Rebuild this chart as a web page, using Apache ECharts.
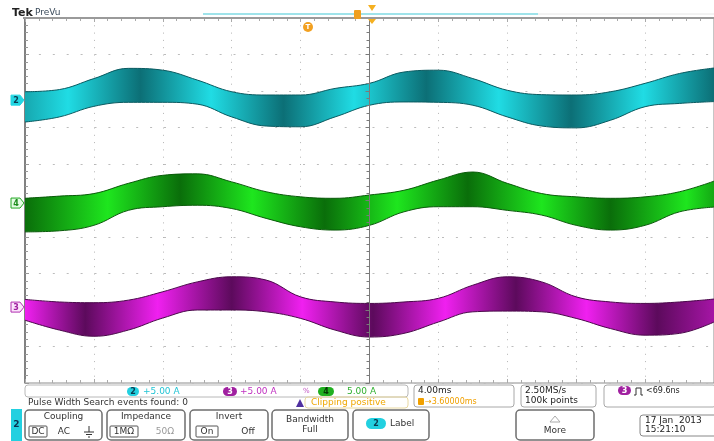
<!DOCTYPE html>
<html>
<head>
<meta charset="utf-8">
<script src="https://cdn.jsdelivr.net/npm/echarts@6/dist/echarts.min.js"></script>
<style>
  html, body { margin: 0; padding: 0; background: #fff; }
  #main { width: 714px; height: 441px; }
</style>
</head>
<body>
<div id="main"></div>
<script>
// time axis in ms (4.00ms/div), one sample every 2 ms
var times = [-20, -18, -16, -14, -12, -10, -8, -6, -4, -2, 0, 2, 4, 6, 8, 10, 12, 14, 16, 18, 20];

// envelopes of each trace, in divisions from screen centre
var ch2Top    = [2.98, 3.04, 3.34, 3.62, 3.57, 3.30, 2.98, 2.89, 2.89, 3.07, 3.21, 3.52, 3.57, 3.34, 3.02, 2.90, 2.89, 2.98, 3.21, 3.48, 3.63];
var ch2Bottom = [2.15, 2.29, 2.58, 2.69, 2.69, 2.64, 2.29, 2.04, 2.02, 2.29, 2.61, 2.70, 2.69, 2.61, 2.29, 2.04, 1.99, 2.20, 2.57, 2.66, 2.71];
var ch4Top    = [0.06, 0.12, 0.19, 0.47, 0.69, 0.73, 0.51, 0.24, 0.10, 0.06, 0.15, 0.28, 0.56, 0.78, 0.47, 0.19, 0.10, 0.06, 0.10, 0.24, 0.53];
var ch4Bottom = [-0.86, -0.83, -0.68, -0.27, -0.17, -0.13, -0.22, -0.49, -0.72, -0.81, -0.68, -0.31, -0.17, -0.17, -0.27, -0.40, -0.68, -0.81, -0.68, -0.31, -0.18];
var ch3Top    = [-2.71, -2.78, -2.80, -2.73, -2.50, -2.23, -2.09, -2.18, -2.64, -2.78, -2.82, -2.78, -2.68, -2.32, -2.09, -2.23, -2.64, -2.78, -2.82, -2.78, -2.70];
var ch3Bottom = [-3.28, -3.55, -3.72, -3.55, -3.22, -3.00, -3.00, -3.05, -3.23, -3.55, -3.74, -3.64, -3.33, -3.05, -3.03, -3.05, -3.23, -3.51, -3.69, -3.64, -3.33];

// channel ground markers on the left edge
var channelNames = ['2', '4', '3'];
var channelLevels = [2.75, -0.07, -2.92];

var FONT = '"DejaVu Sans"';

function gradient(stops) {
  return {
    type: 'linear', x: 0, y: 0, x2: 1, y2: 0,
    colorStops: stops.map(function (s) { return { offset: s[0], color: s[1] }; })
  };
}
// a trace is drawn as its lower envelope plus the stacked band width
function band(name, top, bottom, edge, stops) {
  var width = top.map(function (v, i) { return +(v - bottom[i]).toFixed(2); });
  var common = {
    type: 'line', stack: name, stackStrategy: 'all', xAxisIndex: 4,
    smooth: 0.4, symbol: 'none', z: 3
  };
  return [
    Object.assign({ name: name + ' low', data: bottom, lineStyle: { color: edge, width: 1 } }, common),
    Object.assign({
      name: name, data: width, lineStyle: { color: edge, width: 1 },
      areaStyle: { opacity: 1, color: gradient(stops) }
    }, common)
  ];
}

var cyB = '#20dce4', cyD = '#0c6f76', cyM = '#17a8b0';
var grB = '#1ee61e', grD = '#0a6e0a', grM = '#14a814';
var mgB = '#f020f0', mgD = '#5c0a5c', mgM = '#a515a5';

var series = [].concat(
  band('ch2', ch2Top, ch2Bottom, '#0a5a60', [[0, cyM], [0.0625, cyB], [0.1675, cyD], [0.27, cyB], [0.375, cyD], [0.4775, cyB], [0.5825, cyD], [0.6875, cyB], [0.7925, cyD], [0.8975, cyB], [1, cyD]]),
  band('ch4', ch4Top, ch4Bottom, '#0a5a0a', [[0, grD], [0.12, grB], [0.225, grD], [0.33, grB], [0.435, grD], [0.54, grB], [0.6425, grD], [0.75, grB], [0.85, grD], [0.96, grB], [1, grM]]),
  band('ch3', ch3Top, ch3Bottom, '#4a084a', [[0, mgB], [0.0875, mgD], [0.1925, mgB], [0.3, mgD], [0.4025, mgB], [0.505, mgD], [0.61, mgB], [0.7125, mgD], [0.815, mgB], [0.9175, mgD], [1, mgM]])
);

var tickAxis = {
  min: -20, max: 20, interval: 4, type: 'value',
  axisLabel: { show: false }, splitLine: { show: false }
};

var chart = echarts.init(document.getElementById('main'), null, { renderer: 'canvas' });

var option = {
  animation: false,
  backgroundColor: '#fff',
  grid: { left: 25, top: 18, width: 695, height: 365, show: true, borderColor: '#8c8c8c', borderWidth: 1 },
  xAxis: [{
    type: 'value', min: -20, max: 20, interval: 4,
    axisLine: { show: false }, axisTick: { show: false }, axisLabel: { show: false },
    splitLine: { show: true, lineStyle: { color: '#b4b4b4', type: [1, 6.3], width: 1 } }
  }, Object.assign({}, tickAxis, {
    // horizontal crosshair
    axisLine: { show: true, onZero: true, lineStyle: { color: '#999', width: 1 } },
    axisTick: { show: true, inside: true, length: 4, lineStyle: { color: '#999' } },
    minorTick: { show: true, splitNumber: 5, length: 3, lineStyle: { color: '#999' } }
  }), Object.assign({}, tickAxis, {
    position: 'top',
    axisLine: { show: false, onZero: false },
    axisTick: { show: true, inside: true, length: 4, lineStyle: { color: '#aaa' } },
    minorTick: { show: true, splitNumber: 5, length: 3, lineStyle: { color: '#aaa' } }
  }), Object.assign({}, tickAxis, {
    position: 'bottom',
    axisLine: { show: false, onZero: false },
    axisTick: { show: true, inside: true, length: 4, lineStyle: { color: '#aaa' } },
    minorTick: { show: true, splitNumber: 5, length: 3, lineStyle: { color: '#aaa' } }
  }), {
    // sample axis for the traces
    type: 'category', data: times, boundaryGap: false, show: false
  }],
  yAxis: [{
    type: 'value', min: -5, max: 5, interval: 1,
    axisLine: { show: false }, axisTick: { show: false }, axisLabel: { show: false },
    splitLine: { show: true, lineStyle: { color: '#bcbcbc', type: [2, 11.9], width: 1 } }
  }, {
    // vertical crosshair, drawn over the traces
    type: 'value', min: -5, max: 5, interval: 1, z: 10,
    axisLabel: { show: false }, splitLine: { show: false },
    axisLine: { show: true, onZero: true, onZeroAxisIndex: 0, lineStyle: { color: '#7a7a7a', width: 1 } },
    axisTick: { show: true, inside: true, length: 4, lineStyle: { color: '#7a7a7a' } },
    minorTick: { show: true, splitNumber: 5, length: 3, lineStyle: { color: '#7a7a7a' } }
  }, {
    type: 'value', min: -5, max: 5, interval: 1, position: 'left',
    axisLabel: { show: false }, splitLine: { show: false },
    axisLine: { show: true, onZero: false, lineStyle: { color: '#6a6a6a', width: 1.5 } },
    axisTick: { show: true, inside: true, length: 4, lineStyle: { color: '#999' } },
    minorTick: { show: true, splitNumber: 5, length: 3, lineStyle: { color: '#999' } }
  }],
  series: series
};
chart.setOption(option);

// ---- screen furniture (scope readouts, buttons) ----
function txt(s, x, y, fill, size, opts) {
  opts = opts || {};
  return {
    type: 'text', z: 20,
    style: {
      text: s, x: x, y: y, fill: fill,
      font: (opts.bold ? 'bold ' : '') + size + 'px ' + FONT,
      textAlign: opts.align || 'left', textVerticalAlign: 'middle'
    }
  };
}
function box(x, y, w, h, r, stroke, lw, fill) {
  return {
    type: 'rect', z: 19,
    shape: { x: x, y: y, width: w, height: h, r: r },
    style: { fill: fill || 'none', stroke: stroke, lineWidth: lw || 1 }
  };
}
function pill(x, y, w, h, fill, label, color) {
  return [
    box(x, y, w, h, h / 2, 'none', 0, fill),
    txt(label, x + w / 2, y + h / 2 + 0.5, color, 8, { bold: true, align: 'center' })
  ];
}

var g = [];
// header
g.push(txt('Tek', 12, 13, '#222', 11, { bold: true }));
g.push(txt('PreVu', 35, 13, '#3a4a5a', 9));
g.push({ type: 'line', z: 19, shape: { x1: 203, y1: 14, x2: 538, y2: 14 }, style: { stroke: '#9fe3ea', lineWidth: 2 } });
g.push({ type: 'line', z: 19, shape: { x1: 538, y1: 14, x2: 714, y2: 14 }, style: { stroke: '#e6e6e6', lineWidth: 1 } });
g.push({ type: 'line', z: 19, shape: { x1: 23, y1: 18, x2: 714, y2: 18 }, style: { stroke: '#9a9a9a', lineWidth: 2 } });
g.push(box(354, 10, 7, 9, 1, 'none', 0, '#f0a020'));
g.push({ type: 'polygon', z: 20, shape: { points: [[368, 5], [376, 5], [372, 11]] }, style: { fill: '#f5b020' } });
g.push({ type: 'polygon', z: 20, shape: { points: [[368, 19], [376, 19], [372, 24]] }, style: { fill: '#f5b020' } });
g.push({ type: 'circle', z: 20, shape: { cx: 308, cy: 27, r: 5 }, style: { fill: '#f2a020' } });
g.push(txt('T', 308, 27.5, '#fff', 7, { bold: true, align: 'center' }));

// channel markers at their ground levels
var markStyle = [
  { fill: '#22d6e2', stroke: '#22d6e2', text: '#0a3a50' },
  { fill: '#e4fbe4', stroke: '#22a822', text: '#1a8a1a' },
  { fill: '#fbe4fb', stroke: '#b030b0', text: '#a020a0' }
];
channelNames.forEach(function (n, i) {
  var py = chart.convertToPixel({ yAxisIndex: 0 }, channelLevels[i]);
  var s = markStyle[i];
  g.push({
    type: 'polygon', z: 20,
    shape: { points: [[11, py - 5], [20, py - 5], [24, py], [20, py + 5], [11, py + 5]] },
    style: { fill: s.fill, stroke: s.stroke, lineWidth: 1 }
  });
  g.push(txt(n, 16, py + 0.5, s.text, 8, { bold: true, align: 'center' }));
});

// readout row 1
g.push(box(25, 385, 383, 12, 3, '#b8b8b8', 1));
g = g.concat(pill(127, 387, 12, 9, '#22d0e0', '2', '#0a3a50'));
g.push(txt('+5.00 A', 143, 391.5, '#22c4d4', 9));
g = g.concat(pill(223, 387, 14, 9, '#a020a0', '3', '#fff'));
g.push(txt('+5.00 A', 240, 391.5, '#c030c0', 9));
g.push(txt('%', 303, 391.5, '#c050c0', 7));
g = g.concat(pill(318, 387, 16, 9, '#20b020', '4', '#063806'));
g.push(txt('5.00 A', 347, 391.5, '#30b030', 9));
// readout row 2
g.push(txt('Pulse Width Search events found: 0', 28, 403, '#333', 9));
g.push({ type: 'polygon', z: 20, shape: { points: [[296, 407], [304, 407], [300, 399]] }, style: { fill: '#5030a0' } });
g.push(txt('Clipping positive', 311, 403, '#f0a800', 9));
g.push(box(305, 397, 103, 11, 3, '#e8d8a0', 1));
// timebase
g.push(box(414, 385, 100, 22, 3, '#a8a8a8', 1));
g.push(txt('4.00ms', 418, 391, '#222', 9));
g.push(box(418, 398, 6, 7, 1, 'none', 0, '#f0a000'));
g.push(txt('\u21923.60000ms', 425, 402, '#f0a000', 8));
g.push(box(521, 385, 75, 22, 3, '#a8a8a8', 1));
g.push(txt('2.50MS/s', 525, 391, '#222', 9));
g.push(txt('100k points', 525, 401, '#222', 9));
// trigger
g.push(box(604, 385, 112, 22, 3, '#a8a8a8', 1));
g = g.concat(pill(618, 386, 13, 9, '#a020a0', '3', '#fff'));
g.push({ type: 'polyline', z: 20, shape: { points: [[634, 395], [636, 395], [636, 388], [641, 388], [641, 395], [643, 395]] }, style: { stroke: '#333', lineWidth: 1, fill: 'none' } });
g.push(txt('<69.6ns', 646, 391, '#222', 8));

// side tab
g.push(box(11, 409, 11, 32, 0, 'none', 0, '#22d0e0'));
g.push(txt('2', 16.5, 425, '#0a3050', 9, { bold: true, align: 'center' }));

// buttons
function button(x, w) { return box(x, 410, w, 30, 4, '#6e6e6e', 1.5, '#fff'); }
g.push(button(25, 77));
g.push(txt('Coupling', 63.5, 417, '#333', 9, { align: 'center' }));
g.push(box(29, 426, 18, 11, 1, '#555', 1));
g.push(txt('DC', 38, 432, '#333', 9, { align: 'center' }));
g.push(txt('AC', 64, 432, '#333', 9, { align: 'center' }));
g.push({ type: 'polyline', z: 20, shape: { points: [[89, 426], [89, 432]] }, style: { stroke: '#333', lineWidth: 1 } });
g.push({ type: 'line', z: 20, shape: { x1: 84, y1: 432, x2: 94, y2: 432 }, style: { stroke: '#333', lineWidth: 1 } });
g.push({ type: 'line', z: 20, shape: { x1: 86, y1: 434.5, x2: 92, y2: 434.5 }, style: { stroke: '#333', lineWidth: 1 } });
g.push({ type: 'line', z: 20, shape: { x1: 88, y1: 437, x2: 90, y2: 437 }, style: { stroke: '#333', lineWidth: 1 } });

g.push(button(107, 78));
g.push(txt('Impedance', 146, 417, '#333', 9, { align: 'center' }));
g.push(box(110, 426, 28, 11, 1, '#555', 1));
g.push(txt('1M\u03a9', 124, 432, '#333', 9, { align: 'center' }));
g.push(txt('50\u03a9', 165, 432, '#999', 9, { align: 'center' }));

g.push(button(190, 78));
g.push(txt('Invert', 229, 417, '#333', 9, { align: 'center' }));
g.push(box(196, 426, 22, 11, 1, '#555', 1));
g.push(txt('On', 207, 432, '#333', 9, { align: 'center' }));
g.push(txt('Off', 248, 432, '#333', 9, { align: 'center' }));

g.push(button(272, 76));
g.push(txt('Bandwidth', 310, 420, '#333', 9, { align: 'center' }));
g.push(txt('Full', 310, 430, '#333', 9, { align: 'center' }));

g.push(button(353, 76));
g = g.concat(pill(366, 418, 20, 11, '#22d0e0', '2', '#0a3a50'));
g.push(txt('Label', 390, 424, '#333', 9));

g.push(button(516, 78));
g.push({ type: 'polygon', z: 20, shape: { points: [[550, 422], [560, 422], [555, 416]] }, style: { fill: 'none', stroke: '#aaa', lineWidth: 1 } });
g.push(txt('More', 555, 431, '#333', 9, { align: 'center' }));

g.push(box(640, 415, 80, 21, 3, '#888', 1));
g.push(txt('17 Jan  2013', 645, 421, '#222', 9));
g.push(txt('15:21:10', 645, 430, '#222', 9));

chart.setOption({ graphic: { elements: g } });
</script>
</body>
</html>
